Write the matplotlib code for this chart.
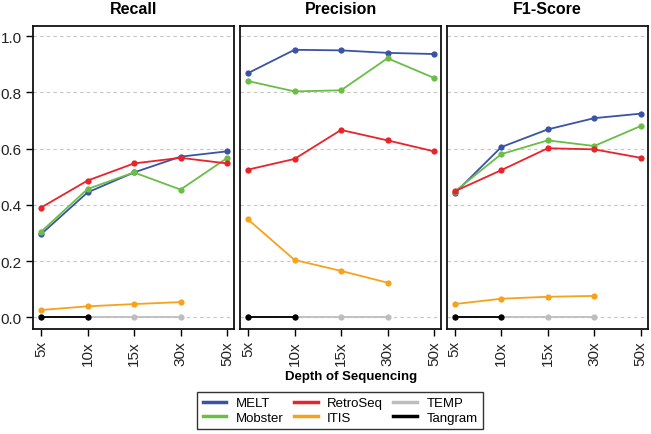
import matplotlib
matplotlib.use("Agg")
import matplotlib.pyplot as plt
from matplotlib.lines import Line2D

plt.rcParams['font.family'] = ['Liberation Sans', 'DejaVu Sans']

depths = ["5x", "10x", "15x", "30x", "50x"]
panels = ["Recall", "Precision", "F1-Score"]

tools = ["MELT", "Mobster", "RetroSeq", "ITIS", "TEMP", "Tangram"]
colors = {"MELT": "#3a53a4", "Mobster": "#6abd45", "RetroSeq": "#e8232a",
          "ITIS": "#f7a21c", "TEMP": "#bdbdbd", "Tangram": "#000000"}

recall = {
    "MELT":     [0.295, 0.444, 0.515, 0.571, 0.590],
    "Mobster":  [0.304, 0.456, 0.515, 0.454, 0.566],
    "RetroSeq": [0.390, 0.486, 0.547, 0.567, 0.547],
    "ITIS":     [0.026, 0.039, 0.047, 0.054],
    "TEMP":     [0.0, 0.0, 0.0, 0.0],
    "Tangram":  [0.0, 0.0],
}
precision = {
    "MELT":     [0.868, 0.951, 0.949, 0.940, 0.936],
    "Mobster":  [0.840, 0.803, 0.807, 0.921, 0.851],
    "RetroSeq": [0.525, 0.563, 0.666, 0.629, 0.590],
    "ITIS":     [0.348, 0.204, 0.165, 0.123],
    "TEMP":     [0.0, 0.0, 0.0, 0.0],
    "Tangram":  [0.0, 0.0],
}
f1 = {
    "MELT":     [0.441, 0.605, 0.668, 0.708, 0.724],
    "Mobster":  [0.447, 0.580, 0.629, 0.609, 0.680],
    "RetroSeq": [0.448, 0.523, 0.601, 0.597, 0.567],
    "ITIS":     [0.047, 0.066, 0.073, 0.076],
    "TEMP":     [0.0, 0.0, 0.0, 0.0],
    "Tangram":  [0.0, 0.0],
}
data = [recall, precision, f1]

W, H = 651, 435
fig = plt.figure(figsize=(W / 100, H / 100), dpi=100)

lefts = [33, 240, 446.7]
pw = 201
top_px, bot_px = 27, 330

for i, (name, d) in enumerate(zip(panels, data)):
    ax = fig.add_axes([lefts[i] / W, (H - bot_px) / H, pw / W, (bot_px - top_px) / H])
    for yv in [0, 0.2, 0.4, 0.6, 0.8, 1.0]:
        ax.axhline(yv, color="#c4c4c4", lw=0.8, ls=(0, (3, 3)), zorder=0)
    for t in tools:
        vals = d[t]
        xs = list(range(len(vals)))
        ax.plot(xs, vals, color=colors[t], lw=1.3, marker="o", ms=4.5,
                markeredgewidth=0, zorder=3)
    ax.set_xlim(-0.172, 4.15)
    ax.set_ylim(-0.0416, 1.0356)
    ax.set_xticks(range(len(depths)))
    ax.set_xticklabels(depths, rotation=90, fontsize=11, color="#222222")
    ax.set_yticks([0, 0.2, 0.4, 0.6, 0.8, 1.0])
    if i == 0:
        ax.set_yticklabels(["0.0", "0.2", "0.4", "0.6", "0.8", "1.0"], fontsize=11,
                           color="#222222")
    else:
        ax.tick_params(axis="y", left=False, labelleft=False)
    ax.tick_params(axis="both", direction="out", length=5, width=1.0, pad=3)
    for sp in ax.spines.values():
        sp.set_linewidth(1.3)
        sp.set_color("#111111")
    fig.text((lefts[i] + pw / 2) / W, 1 - 10 / H, name, ha="center", va="center",
             fontsize=11.5, fontweight="bold")

fig.text(351 / W, 1 - 377 / H, "Depth of Sequencing", ha="center", va="center",
         fontsize=9.5, fontweight="bold")

leg_handles = [Line2D([], [], color=colors[t], lw=2.5) for t in tools]
leg = fig.legend(leg_handles, tools, ncol=3, loc="center",
                 bbox_to_anchor=(340 / W, 1 - 411.5 / H), fontsize=9.5,
                 frameon=True, fancybox=False, edgecolor="black",
                 handlelength=1.8, handletextpad=0.7, columnspacing=0.8,
                 labelspacing=0.2, borderpad=0.4, borderaxespad=0)
leg.get_frame().set_linewidth(1.0)

fig.savefig("out.png", dpi=100)
